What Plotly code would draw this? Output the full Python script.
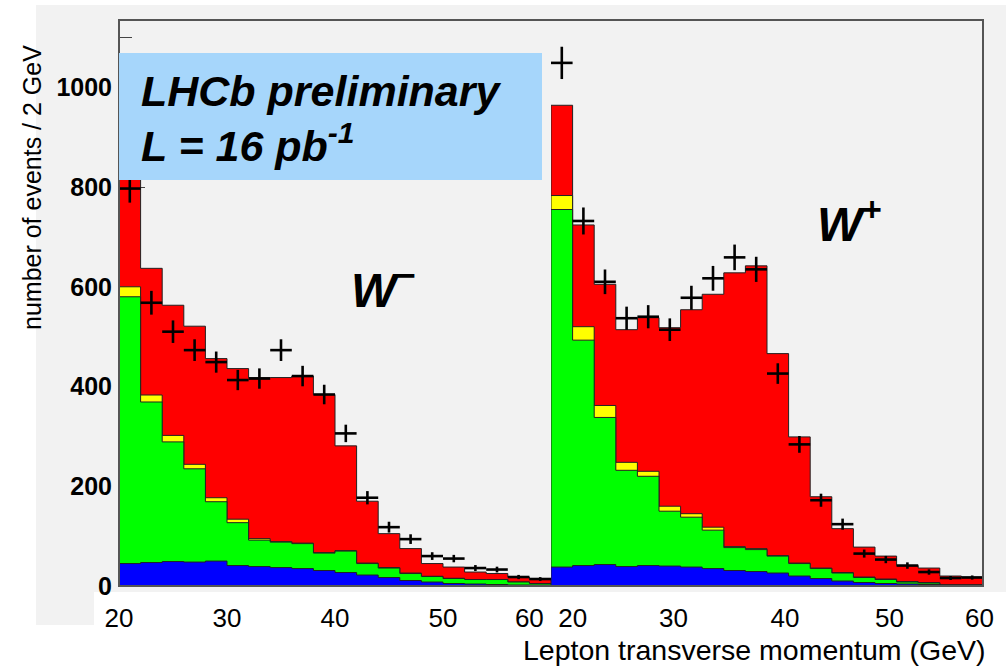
import numpy as np
import plotly.graph_objects as go

# ---------------- data ----------------
bin_edges = list(range(20, 62, 2))          # 20 bins of 2 GeV, 20..60
x_ticks = [20, 30, 40, 50, 60]
y_ticks_step = 200

# W- panel: per-component bin contents (stack order: blue, green, yellow, red)
wm_blue   = [45, 47, 49, 48, 50, 41, 39, 37, 35, 31, 27, 22, 17, 11, 8, 5, 4, 3, 2, 2]
wm_green  = [535, 322, 240, 187, 119, 86, 53, 51, 50, 35, 43, 23, 19, 14, 11, 10, 9, 10, 6, 3]
wm_yellow = [20, 14, 13, 9, 8, 7, 3, 1, 1, 1, 1, 1, 1, 1, 0.5, 0.5, 0, 0, 0, 0]
wm_red    = [230, 254, 261, 277, 279, 302, 323, 329, 335, 317, 210, 124, 68, 49, 25.5, 22.5, 15, 12, 10, 8]
wm_data   = [797, 568, 510, 473, 449, 413, 416, 473, 421, 384, 306, 177, 118, 94, 60, 55, 36, 33, 18, 14]

# W+ panel
wp_blue   = [38, 41, 43, 39, 41, 40, 38, 35, 31, 29, 26, 20, 15, 10, 7, 5, 4, 3, 2, 2]
wp_green  = [717, 452, 295, 193, 179, 110, 100, 77, 46, 44, 34, 25, 20, 16, 10, 8, 4, 3, 0, 0]
wp_yellow = [28, 27, 24, 16, 10, 10, 7, 6, 2, 2, 1, 1, 1, 1, 1, 1, 1, 1, 0, 0]
wp_red    = [181, 204, 243, 266, 308, 358, 409, 467, 549, 567, 405, 253, 143, 88, 60, 46, 32, 29, 18, 16]
wp_data   = [1049, 732, 610, 537, 540, 514, 578, 617, 659, 635, 426, 284, 172, 124, 65, 53, 41, 28, 16, 17]

# ---------------- geometry ----------------
W, H = 1007, 666
ML, MR, MT, MB = 119, 24, 20, 80
PW, PH = W - ML - MR, H - MT - MB
def px(x):
    return (x - ML) / PW
def py(y):
    return (H - MB - y) / PH

FONT = "Liberation Sans, Arial, sans-serif"
OUTLINE = "#222222"

fig = go.Figure()

def add_panel(comps, data, xa):
    colors = ["#0000ff", "#00ff00", "#ffff00", "#ff0000"]
    cums = np.cumsum(np.array(comps, dtype=float), axis=0)
    edges = np.array(bin_edges, dtype=float)
    xs = [edges[0]] + list(edges)
    centers = (edges[:-1] + edges[1:]) / 2
    # draw top layer first so lower layers paint over it
    for i in range(len(comps) - 1, -1, -1):
        v = list(cums[i])
        ys = [0] + v + [v[-1]]
        xs_full = xs + [edges[-1]]
        ys_full = ys + [0]
        fig.add_trace(go.Scatter(
            x=xs_full, y=ys_full, xaxis=xa, yaxis="y",
            mode="lines", line=dict(shape="hv", color=OUTLINE, width=1),
            fill="tozeroy", fillcolor=colors[i], showlegend=False,
            hoverinfo="skip"))
    d = np.array(data, dtype=float)
    fig.add_trace(go.Scatter(
        x=centers, y=d, xaxis=xa, yaxis="y", mode="markers",
        marker=dict(size=1, color="rgba(0,0,0,0)"),
        error_y=dict(type="data", array=np.sqrt(d), thickness=2.6, width=0, color="black"),
        error_x=dict(type="constant", value=1.0, thickness=2.6, width=0, color="black"),
        showlegend=False))

add_panel([wm_blue, wm_green, wm_yellow, wm_red], wm_data, "x")
add_panel([wp_blue, wp_green, wp_yellow, wp_red], wp_data, "x2")

# tick label texts (padding with non-breaking spaces nudges them as in the reference)
NB = "&nbsp;"
left_pad = [(0, 0), (0, 0), (0, 0), (0, 0), (0, 6)]
right_pad = [(6, 0), (4, 0), (5, 0), (4, 0), (0, 1)]
left_text = [NB * a + str(v) + NB * b for v, (a, b) in zip(x_ticks, left_pad)]
right_text = [NB * a + str(v) + NB * b for v, (a, b) in zip(x_ticks, right_pad)]

xcommon = dict(range=[20, 60], showgrid=False, zeroline=False, showline=False,
               ticks="", tickmode="array", tickvals=x_ticks,
               tickfont=dict(family=FONT, size=26, color="black"),
               ticklabelstandoff=14, anchor="y", automargin=False,
               fixedrange=True)

fig.update_layout(
    width=W, height=H, autosize=False,
    margin=dict(l=ML, r=MR, t=MT, b=MB, pad=0, autoexpand=False),
    paper_bgcolor="white", plot_bgcolor="#f2f2f2",
    xaxis=dict(domain=[0, 0.5], ticktext=left_text, **xcommon),
    xaxis2=dict(domain=[0.5, 1], ticktext=right_text, **xcommon),
    yaxis=dict(range=[0, 1135], tick0=0, dtick=y_ticks_step, showgrid=False,
               zeroline=False, showline=False, ticks="inside", ticklen=26,
               tickcolor="#444", tickwidth=1, layer="below traces", automargin=False,
               minor=dict(ticks="inside", ticklen=13, dtick=100, tickcolor="#444", showgrid=False),
               tickfont=dict(family=FONT, size=25, color="black", weight="bold"),
               ticklabelstandoff=6, fixedrange=True),
    showlegend=False,
)

shapes = [
    # outer grey canvas
    dict(type="rect", xref="paper", yref="paper", x0=px(36), x1=px(1006), y0=py(625), y1=py(5),
         fillcolor="#f2f2f2", line=dict(width=0), layer="below"),
    # white strip behind x tick labels
    dict(type="rect", xref="paper", yref="paper", x0=px(94), x1=px(1007), y0=py(625), y1=py(592),
         fillcolor="white", line=dict(width=0), layer="below"),
    # frame
    dict(type="rect", xref="paper", yref="paper", x0=0, x1=1, y0=0, y1=1,
         line=dict(color="#555555", width=2), layer="above"),
    # LHCb label box
    dict(type="rect", xref="paper", yref="paper", x0=px(119), x1=px(542), y0=py(180), y1=py(53),
         fillcolor="#a6d6fb", line=dict(width=0), layer="above"),
]
fig.update_layout(shapes=shapes)

ann = [
    dict(text="<b><i>LHCb preliminary</i></b>", x=px(139), y=py(91), xanchor="left", yanchor="middle",
         font=dict(family=FONT, size=43, color="black")),
    dict(text="<b><i>L = 16 pb<sup>-1</sup></i></b>", x=px(139), y=py(143), xanchor="left", yanchor="middle",
         font=dict(family=FONT, size=43, color="black")),
    dict(text="<b><i>W</i></b><sup><b>\u2212</b></sup>", x=px(349), y=py(287), xanchor="left", yanchor="middle",
         font=dict(family=FONT, size=48, color="black")),
    dict(text="<b><i>W</i></b><sup><b>+</b></sup>", x=px(815), y=py(221), xanchor="left", yanchor="middle",
         font=dict(family=FONT, size=48, color="black")),
    dict(text="number of events / 2 GeV", textangle=-90, x=px(32), y=py(188),
         xanchor="center", yanchor="middle", font=dict(family=FONT, size=25, color="black")),
    dict(text="Lepton transverse momentum (GeV)", x=px(988), y=py(650), xanchor="right", yanchor="middle",
         font=dict(family=FONT, size=28.5, color="black")),
]
for a in ann:
    a.update(xref="paper", yref="paper", showarrow=False)
fig.update_layout(annotations=ann)

fig.write_html("out.html")
